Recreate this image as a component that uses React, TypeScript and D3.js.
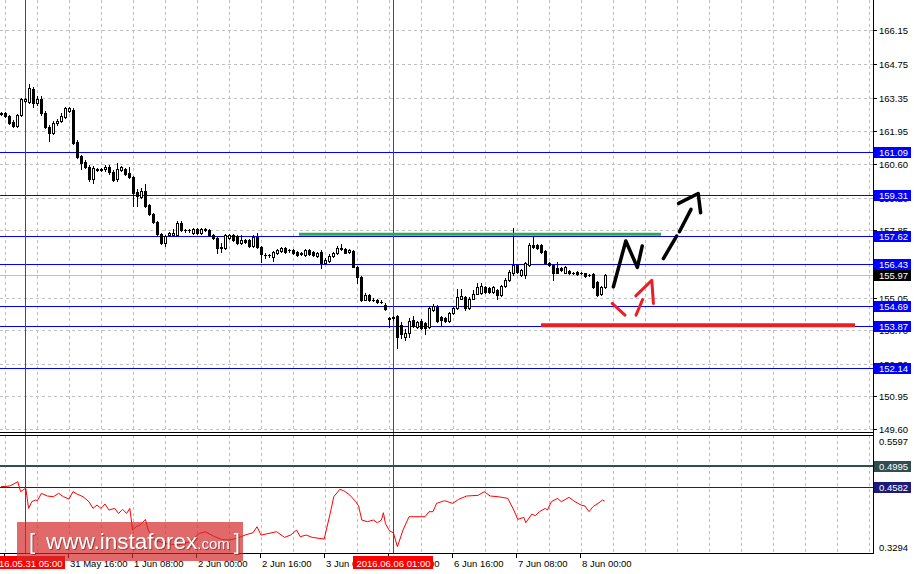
import React from "react";
import * as d3 from "d3";

// H1 candles, prices
const openP = [162.70,162.69,162.58,162.34,162.17,162.62,163.20,163.17,163.69,163.12,163.27,162.72,162.14,161.89,162.28,162.39,162.55,162.80,162.83,161.51,160.92,160.69,160.48,159.99,160.37,160.36,160.37,160.48,160.27,159.95,160.34,160.37,160.23,160.04,159.43,159.23,159.48,158.89,158.51,158.20,157.68,157.32,157.64,157.64,157.64,158.15,157.85,157.84,157.71,157.88,157.74,157.88,157.85,157.64,157.51,157.13,157.09,157.51,157.64,157.60,157.30,157.43,157.43,157.19,157.57,157.16,156.81,156.80,156.74,156.88,156.99,157.09,157.02,157.02,156.95,156.88,156.81,157.02,156.95,156.77,156.95,156.49,156.56,156.77,156.88,157.05,157.05,156.95,156.99,156.33,155.91,154.97,155.15,154.95,154.95,154.88,154.76,154.18,154.25,154.28,153.91,153.42,153.59,154.12,153.84,154.09,153.98,153.84,154.53,154.67,154.23,154.19,154.09,154.40,154.60,155.01,155.08,154.60,155.01,155.22,155.23,155.47,155.43,155.29,155.36,155.15,155.53,155.77,156.05,156.40,155.98,155.98,156.40,157.23,157.23,157.23,156.99,156.49,156.40,156.26,156.26,156.08,156.16,156.08,156.12,156.08,156.05,155.98,156.02,155.70,155.19,155.47];
const highP = [162.75,162.75,162.62,162.41,162.66,163.33,163.35,163.91,163.78,163.41,163.41,162.79,162.21,162.37,162.46,162.69,162.96,162.96,162.91,161.58,160.96,160.75,160.55,160.51,160.43,160.43,160.55,160.55,160.34,160.64,160.51,160.42,160.45,160.09,159.54,159.58,159.76,158.93,158.56,158.24,157.73,157.64,157.77,157.88,158.22,158.22,157.90,157.90,157.93,157.93,157.93,157.93,157.89,157.68,157.56,157.30,157.68,157.68,157.68,157.64,157.64,157.47,157.48,157.64,157.74,157.19,156.91,156.87,156.98,157.06,157.14,157.14,157.07,157.06,156.98,156.93,157.06,157.06,156.98,156.96,157.02,156.69,156.85,156.94,157.19,157.27,157.10,157.06,157.04,156.36,155.94,155.24,155.19,155.02,155.00,154.97,154.82,154.25,154.29,154.32,154.03,153.73,154.19,154.28,154.10,154.16,154.03,154.70,154.78,154.74,154.28,154.24,154.45,154.65,155.40,155.39,155.11,155.07,155.36,155.64,155.65,155.53,155.48,155.53,155.40,155.57,155.86,156.19,157.92,156.44,156.23,156.52,157.31,157.55,157.27,157.27,157.02,156.52,156.44,156.52,156.30,156.38,156.19,156.12,156.15,156.12,156.08,156.02,156.06,155.73,155.53,156.02];
const lowP = [162.62,162.54,162.25,162.12,162.12,162.58,163.15,163.12,162.97,163.04,162.62,162.08,161.56,161.83,162.21,162.33,162.50,162.75,161.42,160.84,160.40,160.42,159.88,159.81,160.30,160.30,160.32,160.17,159.88,159.88,160.30,160.13,160.01,158.85,158.85,159.18,158.80,158.47,158.14,157.64,157.27,157.19,157.60,157.60,157.60,157.81,157.78,157.78,157.68,157.68,157.68,157.82,157.60,157.48,156.91,156.95,157.06,157.48,157.39,157.27,157.27,157.32,157.14,157.14,157.12,156.54,156.68,156.75,156.58,156.85,156.96,156.92,156.96,156.87,156.77,156.81,156.77,156.81,156.77,156.73,156.29,156.46,156.52,156.73,156.85,157.02,156.89,156.92,156.30,155.66,154.90,154.94,154.90,154.90,154.84,154.81,154.53,153.84,154.12,152.94,153.37,153.31,153.42,153.82,153.78,153.74,153.56,153.78,154.49,154.03,153.87,154.05,154.03,154.37,154.57,154.99,154.53,154.57,154.99,155.19,155.19,155.26,155.26,155.26,154.99,155.11,155.49,155.73,155.98,156.06,155.94,155.86,156.36,157.10,157.06,156.92,156.46,156.36,155.77,156.05,156.15,156.05,156.02,156.03,155.99,156.03,155.90,155.93,155.44,155.11,155.15,155.44];
const closeP = [162.68,162.58,162.30,162.17,162.62,163.27,163.29,163.73,163.13,163.27,162.69,162.14,161.89,162.30,162.39,162.59,162.90,162.90,161.47,160.89,160.62,160.48,159.95,160.41,160.36,160.37,160.48,160.27,159.93,160.37,160.45,160.17,160.04,159.40,159.26,159.48,158.85,158.51,158.20,157.68,157.32,157.60,157.71,157.71,158.15,157.85,157.84,157.85,157.88,157.71,157.88,157.87,157.64,157.51,157.09,157.12,157.64,157.64,157.43,157.30,157.43,157.36,157.19,157.57,157.16,156.85,156.80,156.81,156.95,157.02,157.09,156.95,157.01,156.91,156.81,156.87,157.02,156.84,156.81,156.91,156.47,156.63,156.78,156.88,157.12,157.12,156.92,157.02,156.33,155.91,154.97,155.15,154.95,154.97,154.88,154.87,154.58,154.19,154.19,153.42,153.56,153.59,154.09,153.87,154.05,153.77,153.77,154.60,154.70,154.09,154.12,154.09,154.40,154.60,155.08,155.11,154.60,155.01,155.22,155.50,155.53,155.29,155.29,155.47,155.15,155.53,155.80,156.12,156.40,156.12,156.19,156.47,157.23,157.13,157.09,156.95,156.49,156.40,156.08,156.08,156.19,156.33,156.05,156.07,156.02,156.07,155.94,155.97,155.47,155.15,155.47,155.97];

// oscillator vertices: candle index, value
const oscIdx = [0,2.2,4.2,4.9,5.7,6.2,6.9,7.7,8.6,9.1,10.1,11.6,13.1,14.4,15.6,17,18,19,20.5,22,23,24,25,26,27,28.4,29.4,30.4,31.4,32.2,32.9,33.8,34.8,36.1,36.8,38.3,41.2,44.2,47.2,49.6,51.1,53.1,55.1,57.1,59,61,63,64,65,67,68.9,70.9,72.4,73.9,74.8,76.3,77.8,80.8,82.3,83.2,84.7,85.7,87.2,88.7,89.4,90.2,91.6,93.1,94.1,95.1,95.6,96.1,97.1,98.1,99.1,100.5,102,106,107,108,108.9,110.9,112.9,114.4,116.4,119.3,120.8,122.3,124.3,126.7,128.2,129.2,130.7,131.2,132.7,133.6,134.6,136.1,136.6,137.6,139.1,140.1,142,143.5,145,146,147,148,149.5,150.4,150.9];
const oscVal = [0.4588,0.4601,0.4686,0.4491,0.4536,0.4556,0.4165,0.4295,0.4328,0.4315,0.4458,0.4406,0.4393,0.4458,0.4393,0.4347,0.4491,0.4445,0.4393,0.4295,0.4165,0.4230,0.4165,0.4250,0.4132,0.4165,0.4067,0.4146,0.4067,0.4165,0.3742,0.3807,0.3840,0.3950,0.3742,0.3547,0.3481,0.3449,0.3514,0.3677,0.3709,0.3625,0.3560,0.3547,0.3579,0.3644,0.3690,0.3807,0.3644,0.3677,0.3709,0.3599,0.3644,0.3742,0.3612,0.3644,0.3599,0.3566,0.4067,0.4393,0.4536,0.4510,0.4425,0.4295,0.4211,0.3937,0.3905,0.3937,0.3885,0.3937,0.4080,0.3872,0.3729,0.3690,0.3416,0.3742,0.4002,0.4002,0.4100,0.4100,0.4263,0.4315,0.4263,0.4341,0.4406,0.4419,0.4491,0.4406,0.4393,0.4360,0.4132,0.3950,0.3989,0.3885,0.4054,0.4022,0.4100,0.4165,0.4132,0.4295,0.4360,0.4295,0.4380,0.4295,0.4230,0.4211,0.4100,0.4198,0.4276,0.4328,0.4308];

const priceTicks = [166.15,164.75,163.35,161.95,160.60,159.20,157.85,156.45,155.05,153.70,152.30,150.95,149.60];
const priceLevels = [161.09,159.31,157.62,156.43,154.69,153.87,152.14];
const bidPrice = 155.97;
const oscRange = [0.3294,0.5597];
const oscLevels = [0.4995,0.4582];
const oscLevelColors = ["#2f4f4f","#1c1c78"];

const timeTickIdx = [1,17,33,49,65,81,97,113,129,145];
const timeTickLabels = ["31 May 00:00","31 May 16:00","1 Jun 08:00","2 Jun 00:00","2 Jun 16:00","3 Jun 08:00","6 Jun 00:00","6 Jun 16:00","7 Jun 08:00","8 Jun 00:00"];
const markerIdx = [6,98];
const markerLabels = ["2016.05.31 05:00","2016.06.06 01:00"];

// hand drawn forecast, [candle index, price]
const greenLine = [[74.5,157.68],[165,157.68]];
const redLine = [[135,153.9],[213.5,153.9]];
const blackZig = [[153.1,155.5],[156.2,157.4],[159.1,156.3],[160.3,157.19]];
const blackDash = [
  [[165.6,156.67],[168.9,157.6]],
  [[169.6,157.78],[172.5,158.71]],
  [[169.4,158.96],[174.3,159.37],[174.9,158.57]],
];
const redDash = [
  [[152.8,154.81],[156,154.32]],
  [[158.75,154.32],[160.4,154.97]],
  [[158.7,155.12],[162.7,155.77],[163.1,154.81]],
];

const W = 914, H = 574;
const AX = 873;
const MAIN_BOTTOM = 432, SUB_TOP = 435, SUB_BOTTOM = 553;
const FONT = "'Liberation Sans', Arial, sans-serif";

export default function App() {
  const x = d3.scaleLinear().domain([0, 1]).range([1, 5]);
  const y = d3.scaleLinear().domain([149.6, 166.15]).range([429, 30]);
  const yo = d3.scaleLinear().domain(oscRange).range([SUB_BOTTOM, SUB_TOP]);

  const gridIdx = d3.range(1, 220, 8).filter(i => x(i) < AX - 2);
  const pathOf = d3.line<number[]>().x(d => x(d[0])).y(d => y(d[1]));
  const oscLine = d3.line<number>().x((d, i) => x(oscIdx[i])).y(d => yo(d));

  const candles = openP.map((o, i) => {
    const c = closeP[i];
    const cx = Math.round(x(i));
    const top = Math.round(y(Math.max(o, c)));
    const bot = Math.round(y(Math.min(o, c)));
    const up = c >= o;
    return (
      <g key={i}>
        <line x1={cx + 0.5} x2={cx + 0.5} y1={Math.round(y(highP[i]))} y2={Math.round(y(lowP[i])) + 1} stroke="#000" />
        {bot - top < 2 ? (
          <rect x={cx - 1} y={top} width={3} height={Math.max(1, bot - top + 1)} fill="#000" />
        ) : up ? (
          <rect x={cx - 0.5} y={top + 0.5} width={2} height={bot - top} fill="#fff" stroke="#000" />
        ) : (
          <rect x={cx - 1} y={top} width={3} height={bot - top + 1} fill="#000" />
        )}
      </g>
    );
  });

  const labelBox = (v: number, yy: number, bg: string, key: string, digits: number) => (
    <g key={key}>
      <rect x={AX + 1} y={Math.round(yy) - 5} width={37} height={11} fill={bg} />
      <text x={879} y={Math.round(yy) + 0.5} fill="#fff" dominantBaseline="central">{v.toFixed(digits)}</text>
    </g>
  );

  return (
    <svg width={W} height={H} style={{ position: "fixed", left: 0, top: 0, background: "#fff" }}
      fontFamily={FONT} fontSize={9.5}>
      <rect width={W} height={H} fill="#fff" />
      <g shapeRendering="crispEdges">
        {/* grid */}
        {gridIdx.map(i => (
          <g key={"gx" + i}>
            <line x1={x(i) + 0.5} x2={x(i) + 0.5} y1={0} y2={MAIN_BOTTOM} stroke="#c0c0c0" strokeDasharray="3,3" />
            <line x1={x(i) + 0.5} x2={x(i) + 0.5} y1={SUB_TOP} y2={SUB_BOTTOM} stroke="#c0c0c0" strokeDasharray="3,3" />
          </g>
        ))}
        {priceTicks.map(p => (
          <line key={"gy" + p} x1={0} x2={AX} y1={Math.round(y(p)) + 0.5} y2={Math.round(y(p)) + 0.5} stroke="#c0c0c0" strokeDasharray="3,3" />
        ))}
        {/* levels */}
        <line x1={0} x2={AX} y1={Math.round(y(bidPrice)) + 0.5} y2={Math.round(y(bidPrice)) + 0.5} stroke="#c0c0c0" />
        {priceLevels.map(p => (
          <line key={"lv" + p} x1={0} x2={AX} y1={Math.round(y(p)) + 0.5} y2={Math.round(y(p)) + 0.5} stroke="#0000ff" />
        ))}
        {oscLevels.map((v, k) => (
          <line key={"ol" + v} x1={0} x2={AX} y1={Math.round(yo(v)) + (k === 0 ? 0 : 0.5)} y2={Math.round(yo(v)) + (k === 0 ? 0 : 0.5)}
            stroke={oscLevelColors[k]} strokeWidth={k === 0 ? 2 : 1} />
        ))}
        {/* time markers */}
        {markerIdx.map(i => (
          <line key={"mk" + i} x1={x(i) + 0.5} x2={x(i) + 0.5} y1={0} y2={SUB_BOTTOM} stroke="#ff0000" />
        ))}
        {candles}
      </g>

      {/* oscillator */}
      <path d={oscLine(oscVal) || ""} fill="none" stroke="#ff0000" strokeWidth={1} />

      {/* forecast drawings */}
      <path d={pathOf(greenLine) || ""} stroke="#2eaa4a" strokeWidth={3} fill="none" />
      <path d={pathOf(redLine) || ""} stroke="#ee1c25" strokeWidth={4} fill="none" />
      <path d={pathOf(blackZig) || ""} stroke="#000" strokeWidth={3.5} fill="none" strokeLinecap="round" strokeLinejoin="round" />
      {blackDash.map((seg, k) => (
        <path key={"bd" + k} d={pathOf(seg) || ""} stroke="#000" strokeWidth={3.5} fill="none" strokeLinecap="round" strokeLinejoin="round" />
      ))}
      {redDash.map((seg, k) => (
        <path key={"rd" + k} d={pathOf(seg) || ""} stroke="#ee1c25" strokeWidth={3} fill="none" strokeLinecap="round" strokeLinejoin="round" />
      ))}

      {/* frames */}
      <g shapeRendering="crispEdges" stroke="#000">
        <line x1={0} x2={AX} y1={MAIN_BOTTOM + 0.5} y2={MAIN_BOTTOM + 0.5} />
        <line x1={0} x2={AX} y1={SUB_TOP + 0.5} y2={SUB_TOP + 0.5} />
        <line x1={0} x2={AX} y1={SUB_BOTTOM + 0.5} y2={SUB_BOTTOM + 0.5} />
        <line x1={AX + 0.5} x2={AX + 0.5} y1={0} y2={SUB_BOTTOM + 1} />
        {priceTicks.map(p => (
          <line key={"tk" + p} x1={AX} x2={AX + 4} y1={Math.round(y(p)) + 0.5} y2={Math.round(y(p)) + 0.5} />
        ))}
        {timeTickIdx.map(i => (
          <line key={"tt" + i} x1={x(i) - 0.5} x2={x(i) - 0.5} y1={SUB_BOTTOM} y2={SUB_BOTTOM + 5} />
        ))}
      </g>

      {/* axis labels */}
      {priceTicks.map(p => (
        <text key={"pl" + p} x={879} y={Math.round(y(p)) + 0.5} dominantBaseline="central" fill="#000">{p.toFixed(2)}</text>
      ))}
      <text x={879} y={SUB_TOP + 6} dominantBaseline="central">{oscRange[1].toFixed(4)}</text>
      <text x={879} y={SUB_BOTTOM - 6} dominantBaseline="central">{oscRange[0].toFixed(4)}</text>
      {priceLevels.map(p => labelBox(p, y(p), "#0000ff", "lb" + p, 2))}
      {labelBox(bidPrice, y(bidPrice), "#000", "bid", 2)}
      {oscLevels.map((v, k) => labelBox(v, yo(v), oscLevelColors[k], "ob" + v, 4))}

      {timeTickIdx.map((i, k) => (
        <text key={"tl" + i} x={x(i) + 1} y={563} dominantBaseline="central" fill="#000">{timeTickLabels[k]}</text>
      ))}
      {markerIdx.map((i, k) => (
        <g key={"ml" + i}>
          <rect x={x(i) - 40} y={556} width={80} height={13} fill="#ff0000" />
          <text x={x(i) + 0.5} y={563} textAnchor="middle" dominantBaseline="central" fill="#fff">{markerLabels[k]}</text>
        </g>
      ))}

      {/* watermark */}
      <g>
        <rect x={17} y={522} width={226} height={39} fill="#d42a2a" opacity={0.7} />
        <text y={549} fill="#fff" fontFamily={FONT} style={{ filter: "drop-shadow(1px 1px 0 rgba(90,20,20,0.5))" }}>
          <tspan x={29} fontSize={22}>[</tspan>
          <tspan x={46} fontSize={22.5}>www.instaforex</tspan>
          <tspan fontSize={15}>.com</tspan>
          <tspan dx={4} fontSize={22}>]</tspan>
        </text>
      </g>
    </svg>
  );
}
